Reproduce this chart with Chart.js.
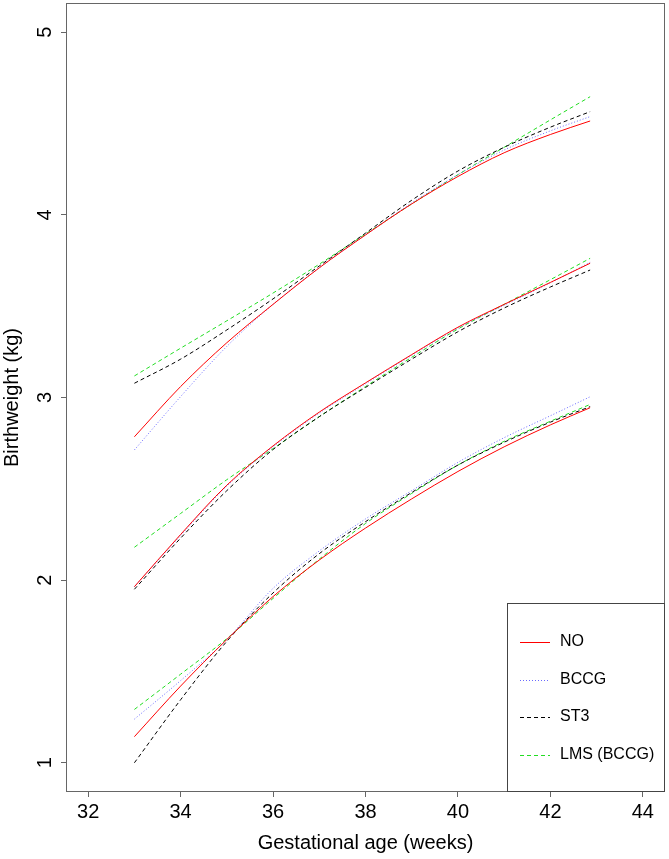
<!DOCTYPE html>
<html>
<head>
<meta charset="utf-8">
<script src="https://cdn.jsdelivr.net/npm/chart.js@4"></script>
<style>
  html, body { margin: 0; padding: 0; background: #fff; }
  canvas { display: block; }
</style>
</head>
<body>
<canvas id="chart" width="669" height="859"></canvas>
<script>
const weeks = [33, 34, 35, 36, 37, 38, 39, 40, 41, 42, 42.86];

// upper centile curves
const noHigh   = [2.785, 3.06, 3.30, 3.51, 3.71, 3.89, 4.06, 4.21, 4.34, 4.44, 4.514];
const bccgHigh = [2.713, 3.005, 3.28, 3.51, 3.71, 3.89, 4.065, 4.22, 4.355, 4.46, 4.538];
const st3High  = [3.078, 3.21, 3.37, 3.54, 3.72, 3.90, 4.08, 4.24, 4.37, 4.48, 4.565];
const lmsHigh  = [3.118, 3.27, 3.42, 3.572, 3.73, 3.895, 4.06, 4.22, 4.37, 4.52, 4.647];

// middle curves
const noMid   = [1.964, 2.25, 2.52, 2.735, 2.92, 3.08, 3.235, 3.385, 3.51, 3.63, 3.735];
const bccgMid = [1.965, 2.245, 2.515, 2.73, 2.915, 3.075, 3.23, 3.38, 3.505, 3.628, 3.74];
const st3Mid  = [1.95, 2.23, 2.49, 2.715, 2.895, 3.055, 3.21, 3.36, 3.49, 3.605, 3.698];
const lmsMid  = [2.18, 2.365, 2.55, 2.72, 2.895, 3.06, 3.22, 3.375, 3.51, 3.645, 3.762];

// lower curves
const noLow   = [1.143, 1.42, 1.675, 1.91, 2.11, 2.285, 2.445, 2.595, 2.73, 2.85, 2.944];
const bccgLow = [1.239, 1.45, 1.675, 1.955, 2.16, 2.335, 2.49, 2.645, 2.78, 2.90, 3.004];
const st3Low  = [1.0, 1.345, 1.665, 1.93, 2.145, 2.32, 2.48, 2.63, 2.755, 2.865, 2.95];
const lmsLow  = [1.292, 1.485, 1.68, 1.90, 2.115, 2.31, 2.475, 2.63, 2.76, 2.87, 2.962];

const xTicks = [32, 34, 36, 38, 40, 42, 44];
const yTicks = [1, 2, 3, 4, 5];

const methods = [
  { label: 'NO',         color: '#ff0000', dash: [],     curves: [noHigh, noMid, noLow] },
  { label: 'BCCG',       color: '#6a6aff', dash: [1, 2], curves: [bccgHigh, bccgMid, bccgLow] },
  { label: 'ST3',        color: '#000000', dash: [4, 3], curves: [st3High, st3Mid, st3Low] },
  { label: 'LMS (BCCG)', color: '#22dd22', dash: [4, 3], curves: [lmsHigh, lmsMid, lmsLow] }
];

const fontFamily = '"Liberation Sans", Arial, Helvetica, sans-serif';

function toPoints(values) {
  return weeks.map(function(w, i) { return { x: w, y: values[i] }; });
}

let datasets = [];
methods.forEach(function(m) {
  m.curves.forEach(function(c) {
    datasets.push({
      label: m.label
    , data: toPoints(c)
    , borderColor: m.color
    , borderDash: m.dash
    , borderWidth: 1
    , pointRadius: 0
    , fill: false
    , cubicInterpolationMode: 'monotone'
    });
  });
});

// frame, rotated y labels and the boxed legend
const framePlugin = {
  id: 'framePlugin'
, afterDraw: function(chart) {
    const ctx  = chart.ctx;
    const area = chart.chartArea;
    const yScale = chart.scales.y;
    ctx.save();
    ctx.strokeStyle = '#666';
    ctx.lineWidth = 1;
    ctx.setLineDash([]);
    ctx.strokeRect(area.left + 0.5, area.top + 0.5, area.right - area.left - 1, area.bottom - area.top - 1);

    ctx.fillStyle = '#000';
    ctx.font = '20px ' + fontFamily;
    ctx.textAlign = 'center';
    ctx.textBaseline = 'middle';
    yTicks.forEach(function(v) {
      ctx.save();
      ctx.translate(45, yScale.getPixelForValue(v));
      ctx.rotate(-Math.PI / 2);
      ctx.fillText(String(v), 0, 0);
      ctx.restore();
    });

    // legend box
    const boxLeft = 507, boxTop = 603;
    ctx.strokeStyle = '#444';
    ctx.strokeRect(boxLeft + 0.5, boxTop + 0.5, area.right - boxLeft - 1, area.bottom - boxTop - 1);
    ctx.font = '16px ' + fontFamily;
    ctx.textAlign = 'left';
    methods.forEach(function(m, i) {
      const y = boxTop + 39 + i * 37.5;
      ctx.strokeStyle = m.color;
      ctx.setLineDash(m.dash);
      ctx.beginPath();
      ctx.moveTo(520, Math.round(y) + 0.5);
      ctx.lineTo(550, Math.round(y) + 0.5);
      ctx.stroke();
      ctx.setLineDash([]);
      ctx.fillText(m.label, 560, y);
    });
    ctx.restore();
  }
};

const chart = new Chart(document.getElementById('chart').getContext('2d'), {
  type: 'line'
, data: { datasets: datasets }
, options: {
    responsive: false
  , animation: false
  , layout: { padding: { top: 3, right: 4, left: 0, bottom: 0 } }
  , plugins: {
      legend: { display: false }
    , tooltip: { enabled: false }
    }
  , scales: {
      x: {
        type: 'linear'
      , min: 31.52
      , max: 44.48
      , afterBuildTicks: function(scale) { scale.ticks = xTicks.map(function(v) { return { value: v }; }); }
      , afterFit: function(scale) { scale.height = 67; }
      , border: { display: false }
      , grid: { drawOnChartArea: false, drawTicks: true, tickLength: 5, color: '#666' }
      , ticks: { color: '#000', font: { family: fontFamily, size: 20 }, padding: 3, maxRotation: 0 }
      , title: {
          display: true
        , text: 'Gestational age (weeks)'
        , color: '#000'
        , font: { family: fontFamily, size: 20 }
        , padding: { top: 0, bottom: 4 }
        }
      }
    , y: {
        type: 'linear'
      , min: 0.84
      , max: 5.16
      , afterBuildTicks: function(scale) { scale.ticks = yTicks.map(function(v) { return { value: v }; }); }
      , afterFit: function(scale) { scale.width = 66; }
      , border: { display: false }
      , grid: { drawOnChartArea: false, drawTicks: true, tickLength: 5, color: '#666' }
      , ticks: { display: false }
      , title: {
          display: true
        , text: 'Birthweight (kg)'
        , color: '#000'
        , font: { family: fontFamily, size: 20 }
        , padding: { top: 0, bottom: 0 }
        }
      }
    }
  }
, plugins: [framePlugin]
});
</script>
</body>
</html>
